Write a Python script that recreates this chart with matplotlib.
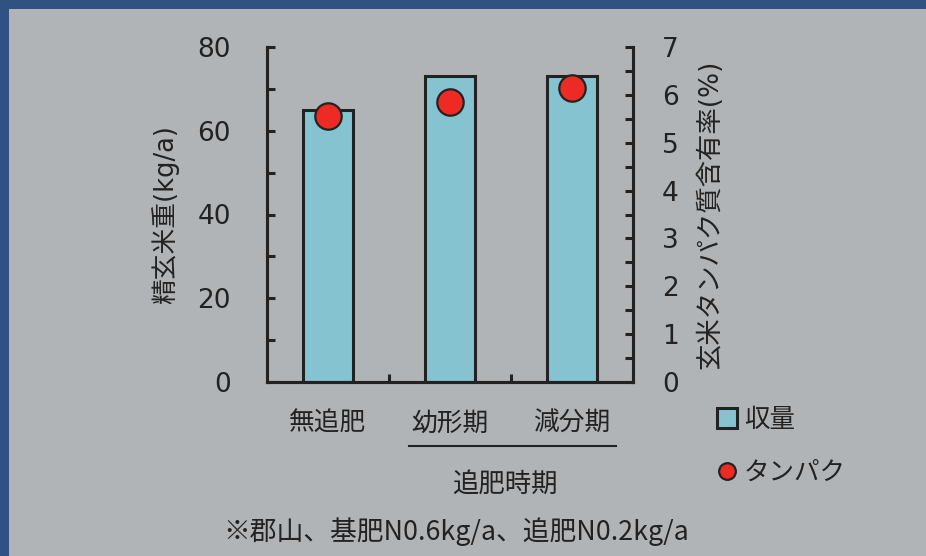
import matplotlib
matplotlib.use("Agg")
import matplotlib.pyplot as plt
from matplotlib.patches import Rectangle, Patch
from matplotlib.lines import Line2D
from matplotlib.transforms import blended_transform_factory, IdentityTransform

plt.rcParams['font.family'] = ['DejaVu Sans', 'Noto Sans CJK JP']

# データ
categories = ['無追肥', '幼形期', '減分期']
yield_kg = [65, 73, 73]             # 精玄米重 (kg/a)
protein_pct = [5.55, 5.85, 6.15]    # 玄米タンパク質含有率 (%)

bg = '#b1b4b7'
border = '#2f5282'
bar_color = '#86c3d1'
dot_color = '#ee2a24'
ink = '#222222'
jp = ['Noto Sans CJK JP', 'DejaVu Sans']

fig = plt.figure(figsize=(9.26, 5.56), dpi=100, facecolor=border)
fig.patches.append(Rectangle((9 / 926, 0), 1, 1 - 9 / 556, transform=fig.transFigure,
                             facecolor=bg, edgecolor='none', zorder=-10))

ax = fig.add_axes([267 / 926, 1 - 382 / 556, (633 - 267) / 926, (382 - 47) / 556])
ax.set_facecolor('none')
ax2 = ax.twinx()

x = range(len(categories))
ax.bar(x, yield_kg, width=0.41, color=bar_color, edgecolor=ink, linewidth=2.2, zorder=2)
ax2.plot(x, protein_pct, 'o', markersize=19, markerfacecolor=dot_color,
         markeredgecolor=ink, markeredgewidth=1.6, zorder=3, clip_on=False)

ax.set_xlim(-0.5, 2.5)
ax.set_ylim(0, 80)
ax2.set_ylim(0, 7)

ax.set_yticks([0, 20, 40, 60, 80])
ax.set_yticks([10, 30, 50, 70], minor=True)
ax2.set_yticks(range(8))
ax2.set_yticks([0.5 + i for i in range(7)], minor=True)
ax.set_xticks(list(x))
ax.set_xticklabels(categories, family=jp)
ax.set_xticks([0.5, 1.5], minor=True)

for a in (ax, ax2):
    for s in a.spines.values():
        s.set_linewidth(2.2)
        s.set_color(ink)
    a.spines['top'].set_visible(False)
    a.tick_params(which='both', direction='in', length=6, width=2.2, color=ink,
                  labelcolor=ink, labelsize=19)
ax.tick_params(axis='y', pad=26)
ax2.tick_params(axis='y', pad=21)
ax.tick_params(axis='x', which='both', pad=21, labelsize=18.5)

px = IdentityTransform()
ax.set_ylabel('精玄米重(kg/a)', fontsize=18.5, color=ink)
ax.yaxis.set_label_coords(179, 0.5, transform=blended_transform_factory(px, ax.transAxes))
ax2.set_ylabel('玄米タンパク質含有率(%)', fontsize=19, color=ink)
ax2.yaxis.set_label_coords(697, 0.5, transform=blended_transform_factory(px, ax2.transAxes))

# 追肥時期のグループ線
tr = blended_transform_factory(ax.transData, ax.transAxes)
ax.plot([0.66, 2.36], [-0.19, -0.19], color=ink, linewidth=1.5, transform=tr, clip_on=False)
ax.text(1.45, -0.305, '追肥時期', transform=tr, ha='center', va='center',
        fontsize=19, color=ink, family=jp)

fig.text(456 / 926, 1 - 532 / 556, '※郡山、基肥N0.6kg/a、追肥N0.2kg/a',
         ha='center', va='center', fontsize=19.3, color=ink, family=jp)

handles = [Patch(facecolor=bar_color, edgecolor=ink, linewidth=2.2),
           Line2D([], [], marker='o', linestyle='none', markersize=12,
                  markerfacecolor=dot_color, markeredgecolor=ink, markeredgewidth=1.6)]
fig.legend(handles, ['収量', 'タンパク'], loc='upper left',
           bbox_to_anchor=(694 / 926, 1 - 384 / 556), frameon=False,
           prop={'family': jp, 'size': 18.4}, labelcolor=ink,
           handlelength=0.8, handleheight=0.8, handletextpad=0.25, labelspacing=1.05)

fig.savefig('out.png', dpi=100, facecolor=fig.get_facecolor())
